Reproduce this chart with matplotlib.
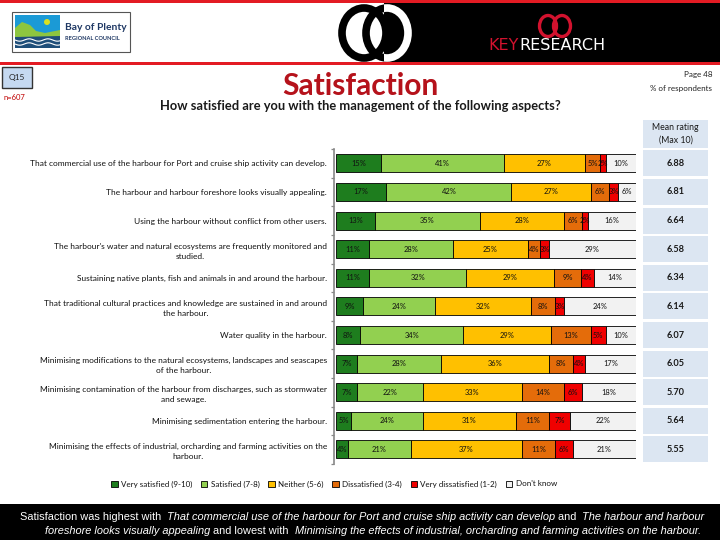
import matplotlib
matplotlib.use('Agg')
import matplotlib.pyplot as plt
from matplotlib.patches import Rectangle, Ellipse, Polygon, Circle
import numpy as np

# ---------------- data ----------------
categories = [
    "That commercial use of the harbour for Port and cruise ship activity can develop.",
    "The harbour and harbour foreshore looks visually appealing.",
    "Using the harbour without conflict from other users.",
    "The harbour's water and natural ecosystems are frequently monitored and\nstudied.",
    "Sustaining native plants, fish and animals in and around the harbour.",
    "That traditional cultural practices and knowledge are sustained in and around\nthe harbour.",
    "Water quality in the harbour.",
    "Minimising modifications to the natural ecosystems, landscapes and seascapes\nof the harbour.",
    "Minimising contamination of the harbour from discharges, such as stormwater\nand sewage.",
    "Minimising sedimentation entering the harbour.",
    "Minimising the effects of industrial, orcharding and farming activities on the\nharbour.",
]
very_satisfied = [15, 17, 13, 11, 11, 9, 8, 7, 7, 5, 4]
satisfied = [41, 42, 35, 28, 32, 24, 34, 28, 22, 24, 21]
neither = [27, 27, 28, 25, 29, 32, 29, 36, 33, 31, 37]
dissatisfied = [5, 6, 6, 4, 9, 8, 13, 8, 14, 11, 11]
very_dissatisfied = [2, 3, 2, 3, 4, 3, 5, 4, 6, 7, 6]
dont_know = [10, 6, 16, 29, 14, 24, 10, 17, 18, 22, 21]
mean_rating = [6.88, 6.81, 6.64, 6.58, 6.34, 6.14, 6.07, 6.05, 5.70, 5.64, 5.55]
series_names = ["Very satisfied (9-10)", "Satisfied (7-8)", "Neither (5-6)",
                "Dissatisfied (3-4)", "Very dissatisfied (1-2)", "Don't know"]
series_colors = ["#1E7D1E", "#92D050", "#FFC000", "#E46C0A", "#F00000", "#F2F2F2"]

title = "Satisfaction"
subtitle = "How satisfied are you with the management of the following aspects?"
footer_line1 = [("Satisfaction was highest with ", "normal"),
                ("That commercial use of the harbour for Port and cruise ship activity can develop", "italic"),
                (" and ", "normal"), ("The harbour and harbour", "italic")]
footer_line2 = [("foreshore looks visually appealing", "italic"), (" and lowest with ", "normal"),
                ("Minimising the effects of industrial, orcharding and farming activities on the harbour.", "italic")]

plt.rcParams['font.family'] = ['Lato', 'DejaVu Sans']

W, H = 720, 540
fig = plt.figure(figsize=(7.2, 5.4), dpi=100)
fig.patch.set_facecolor('white')

# background axes in pixel coordinates
bg = fig.add_axes([0, 0, 1, 1], zorder=0)
bg.set_xlim(0, W)
bg.set_ylim(H, 0)
bg.axis('off')

# ---- header ----
red = '#E31B23'
bg.add_patch(Rectangle((0, 0), W, 3, color=red, lw=0))
bg.add_patch(Rectangle((0, 62), W, 3, color=red, lw=0))
bg.add_patch(Rectangle((384, 3), W - 384, 59, color='black', lw=0))
# ring logo
r2w = Ellipse((387, 33), 42, 50, fill=False, ec='white', lw=5.5)
bg.add_patch(r2w)
r2b = Ellipse((387, 33), 42, 50, fill=False, ec='black', lw=5.5)
bg.add_patch(r2b)
clip = Rectangle((300, 0), 84, 70, transform=bg.transData, visible=False)
bg.add_patch(clip)
r2b.set_clip_path(clip)
bg.add_patch(Ellipse((364, 33), 44, 50, fill=False, ec='black', lw=5.5))
# key research logo
bg.add_patch(Ellipse((548, 26), 17, 21, fill=False, ec='#D2122E', lw=2.4))
bg.add_patch(Ellipse((562, 26), 17, 21, fill=False, ec='#D2122E', lw=2.4))
bg.text(519, 46, "KEY", color='#D2122E', fontsize=11.5, ha='right', va='center',
        family=['DejaVu Sans'])
bg.text(519, 46, "RESEARCH", color='white', fontsize=11.5, ha='left', va='center',
        family=['DejaVu Sans'])
# Bay of Plenty logo
bg.add_patch(Rectangle((12, 12), 118, 40, fill=False, ec='#555555', lw=0.8))
bg.add_patch(Rectangle((15, 15), 45, 18, color='#1B9AD6', lw=0))
bg.add_patch(Rectangle((15, 33), 45, 15, color='#1F4E79', lw=0))
bg.add_patch(Polygon([(15, 33), (15, 28), (22, 22), (30, 25), (36, 31), (45, 33), (60, 30), (60, 36), (15, 37)],
                     closed=True, color='#8DC63F', lw=0))
bg.add_patch(Circle((47, 22), 3, color='#D9E021', lw=0))
xs = np.linspace(15, 60, 30)
bg.plot(xs, 40 + 1.2 * np.sin((xs - 15) / 3), color='white', lw=0.8)
bg.plot(xs, 44 + 1.2 * np.sin((xs - 15) / 3), color='white', lw=0.8)
bg.text(65, 27, "Bay of Plenty", color='#1F3864', fontsize=7.4, fontweight='bold', ha='left', va='center')
bg.text(65, 38.5, "REGIONAL COUNCIL", color='#1F3864', fontsize=4.1, fontweight='bold', ha='left', va='center')

# Q15 box
bg.add_patch(Rectangle((2, 67), 30, 21, fc='#C5D9F1', ec='#333333', lw=1))
bg.text(17, 77.5, "Q15", fontsize=6, ha='center', va='center', color='#222222')
bg.text(4, 97, "n=607", fontsize=5.5, ha='left', va='center', color='#C00000')
bg.text(712, 75, "Page 48", fontsize=5.8, ha='right', va='center', color='#222222')
bg.text(712, 88, "% of respondents", fontsize=5.8, ha='right', va='center', color='#222222')
bg.text(360, 86, title, fontsize=21.5, fontweight='bold', color='#B5121B', ha='center', va='center')
bg.text(360, 106, subtitle, fontsize=9.3, fontweight='bold', color='#1A1A1A', ha='center', va='center')

# footer band
bg.add_patch(Rectangle((0, 504), W, 36, color='black', lw=0))

# ---------------- bars ----------------
n = len(categories)
pitch = 28.6
top_px = 163.4 - pitch / 2
ax = fig.add_axes([336 / W, 1 - (top_px + n * pitch) / H, 300 / W, n * pitch / H], zorder=2)
ax.patch.set_alpha(0)
series = [very_satisfied, satisfied, neither, dissatisfied, very_dissatisfied, dont_know]
data = np.array(series, dtype=float)
totals = data.sum(axis=0)
pct = data / totals * 100
y = np.arange(n)
left = np.zeros(n)
for k in range(len(series)):
    ax.barh(y, pct[k], left=left, height=0.63, color=series_colors[k],
            edgecolor='black', linewidth=0.6, label=series_names[k])
    for i in range(n):
        ax.text(left[i] + pct[k][i] / 2, y[i], f"{series[k][i]}%", ha='center', va='center',
                fontsize=5.4, color='#111111')
    left += pct[k]
ax.set_xlim(0, 100)
ax.set_ylim(n - 0.5, -0.5)
for s in ['top', 'right', 'bottom']:
    ax.spines[s].set_visible(False)
ax.spines['left'].set_position(('outward', 1.5))
ax.spines['left'].set_color('#888888')
ax.spines['left'].set_linewidth(1.2)
ax.set_xticks([])
ax.set_yticks(y)
ax.set_yticklabels(categories, fontsize=6.0, color='#111111')
for t in ax.get_yticklabels():
    t.set_multialignment('center')
    t.set_linespacing(1.55)
ax.tick_params(axis='y', which='major', length=0, pad=5.0)
ax.set_yticks(np.arange(-0.5, n, 1.0), minor=True)
ax.tick_params(axis='y', which='minor', length=2.5, width=0.9, color='#888888', direction='out')

# ---------------- mean rating column ----------------
axm = fig.add_axes([643 / W, 1 - (top_px + n * pitch) / H, 65 / W, n * pitch / H], zorder=2)
axm.set_xlim(0, 1)
axm.set_ylim(n - 0.5, -0.5)
axm.axis('off')
for i in range(n):
    axm.add_patch(Rectangle((0, i - 0.455), 1, 0.91, color='#DCE6F2', lw=0))
    axm.text(0.5, i, f"{mean_rating[i]:.2f}", ha='center', va='center', fontsize=6.6,
             fontweight='bold', color='#1A1A1A')
axm.add_patch(Rectangle((0, -1.52), 1, 0.99, color='#DCE6F2', lw=0, clip_on=False))
axm.text(0.5, -1.03, "Mean rating\n(Max 10)", ha='center', va='center', fontsize=6.3,
         color='#1A1A1A', clip_on=False, linespacing=1.5)

# ---------------- legend ----------------
leg_handles = [Rectangle((0, 0), 1, 1, fc=c, ec='black', lw=0.6) for c in series_colors]
fig.legend(leg_handles, series_names, loc='center', bbox_to_anchor=(334 / W, 1 - 484 / H),
           ncol=6, frameon=False, fontsize=5.8, handlelength=0.8, handleheight=0.8,
           handletextpad=0.4, columnspacing=1.1, labelcolor='#111111')

# ---------------- footer rich text ----------------
fig.canvas.draw()
renderer = fig.canvas.get_renderer()
FOOT_FS = 7.9
FOOT_FAM = ['Liberation Sans', 'DejaVu Sans']


def rich_line(pieces, ypx, cx):
    texts = []
    for s, style in pieces:
        t = bg.text(0, ypx, s, color='white', fontsize=FOOT_FS, fontstyle=style, ha='left',
                    va='center', family=FOOT_FAM)
        texts.append(t)
    sp = bg.text(0, 0, "a a", fontsize=FOOT_FS, family=FOOT_FAM)
    sp2 = bg.text(0, 0, "aa", fontsize=FOOT_FS, family=FOOT_FAM)
    fig.canvas.draw()
    widths = [t.get_window_extent(renderer).width for t in texts]
    spw = sp.get_window_extent(renderer).width - sp2.get_window_extent(renderer).width
    sp.remove()
    sp2.remove()
    trails = [len(s) - len(s.rstrip(' ')) for s, _ in pieces]
    total = sum(w + tr * spw for w, tr in zip(widths, trails))
    x = cx - total / 2
    for t, w, tr in zip(texts, widths, trails):
        t.set_x(x)
        x += w + tr * spw


rich_line(footer_line1, 517, 362)
rich_line(footer_line2, 531, 373)

fig.savefig('out.png', dpi=100)
